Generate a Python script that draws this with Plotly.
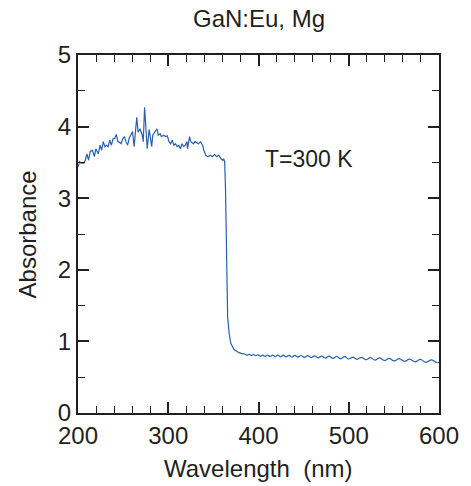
import plotly.graph_objects as go

# Noisy region + absorption edge (nm, absorbance)
wl_edge = [200.2, 201.6, 203.5, 206.3, 208.1, 209.9, 211.7, 213.5, 216.0, 218.2,
           219.7, 222.5, 224.4, 226.2, 228.0, 229.8, 231.6, 233.4, 235.2, 237.0,
           238.8, 240.6, 242.4, 244.2, 246.0, 247.8, 249.6, 251.4, 253.2, 255.0,
           256.8, 258.6, 260.4, 262.2, 264.0, 265.1, 266.6, 268.7, 271.2, 272.3,
           273.8, 275.2, 276.7, 278.8, 280.5, 281.7, 282.8, 285.3, 287.5, 288.9,
           291.1, 292.5, 294.7, 297.2, 299.0, 300.8, 302.6, 304.4, 306.2, 308.0,
           309.8, 311.7, 313.5, 315.3, 317.1, 318.9, 320.7, 321.4, 323.6, 325.0,
           327.9, 329.7, 333.3, 335.8, 338.0, 339.4, 341.6, 344.1, 346.6, 348.8,
           351.3, 353.9, 356.0, 358.5, 360.4, 361.4, 362.5, 363.5, 364.2, 365.0,
           365.8, 367.5, 369.4, 373.0, 378.4, 382.0, 385.0]
abs_edge = [3.44, 3.51, 3.49, 3.49, 3.53, 3.62, 3.53, 3.65, 3.67, 3.58,
            3.69, 3.62, 3.74, 3.67, 3.79, 3.72, 3.74, 3.72, 3.81, 3.74,
            3.83, 3.83, 3.89, 3.79, 3.78, 3.76, 3.83, 3.86, 3.79, 3.74,
            3.84, 3.88, 3.93, 3.72, 3.97, 4.13, 3.92, 3.97, 3.88, 3.79,
            4.27, 3.92, 3.69, 3.96, 3.78, 3.72, 3.88, 3.92, 3.97, 3.88,
            3.90, 3.86, 3.88, 3.86, 3.87, 3.79, 3.76, 3.81, 3.74, 3.76,
            3.72, 3.74, 3.69, 3.76, 3.72, 3.74, 3.79, 3.69, 3.86, 3.79,
            3.76, 3.79, 3.76, 3.79, 3.74, 3.67, 3.60, 3.58, 3.60, 3.58,
            3.61, 3.58, 3.60, 3.55, 3.53, 3.55, 3.51, 3.10, 2.50, 1.81,
            1.34, 1.11, 0.97, 0.885, 0.843, 0.830, 0.822]

# Interference-fringe region (extrema)
wl_fringe = [385.0, 387.3, 389.6, 392.0, 394.4, 396.9, 399.4, 402.0, 404.6, 407.3,
             410.0, 412.8, 415.6, 418.5, 421.4, 424.4, 427.5, 430.6, 433.8, 437.0,
             440.3, 443.7, 447.2, 450.8, 454.5, 458.2, 462.0, 465.9, 469.9, 474.0,
             478.1, 482.3, 486.6, 491.0, 495.5, 500.0, 504.6, 509.3, 514.1, 519.0,
             524.0, 529.0, 534.2, 539.5, 544.9, 550.4, 556.0, 561.7, 567.5, 573.4,
             579.4, 585.5, 591.7, 598.0, 600.0]
abs_fringe = [0.822, 0.808, 0.820, 0.804, 0.816, 0.800, 0.811, 0.793, 0.809, 0.791,
              0.809, 0.789, 0.808, 0.788, 0.808, 0.786, 0.807, 0.785, 0.806, 0.782,
              0.804, 0.780, 0.803, 0.777, 0.801, 0.775, 0.799, 0.771, 0.795, 0.767,
              0.793, 0.763, 0.789, 0.759, 0.786, 0.754, 0.781, 0.749, 0.778, 0.744,
              0.773, 0.739, 0.769, 0.733, 0.763, 0.727, 0.759, 0.721, 0.753, 0.715,
              0.748, 0.708, 0.742, 0.702, 0.708]

x_ticks = [200, 300, 400, 500, 600]
y_ticks = [0, 1, 2, 3, 4, 5]

title_text = "GaN:Eu, Mg"
x_title = "Wavelength&nbsp;&nbsp;(nm)"
y_title = "Absorbance"
temp_label = "T=300 K"

line_color = "#2b5fae"
ink = "#231f20"
font_family = "Liberation Sans, Arial, sans-serif"

fig = go.Figure()
fig.add_trace(go.Scatter(x=wl_edge, y=abs_edge, mode="lines",
                         line=dict(color=line_color, width=1.2), showlegend=False))
fig.add_trace(go.Scatter(x=wl_fringe, y=abs_fringe, mode="lines",
                         line=dict(color=line_color, width=1.2, shape="spline", smoothing=1.0),
                         showlegend=False))

axis_common = dict(
    showline=True, linewidth=2, linecolor=ink, mirror="allticks",
    ticks="inside", ticklen=11, tickwidth=1.5, tickcolor=ink,
    showgrid=False, zeroline=False,
    tickfont=dict(family=font_family, size=24, color=ink),
)

fig.update_xaxes(range=[200, 600], tickvals=x_ticks,
                 minor=dict(ticks="inside", ticklen=7, tickwidth=1.2, tickcolor=ink, dtick=20, showgrid=False),
                 **axis_common)
fig.update_yaxes(range=[0, 5], tickvals=y_ticks,
                 minor=dict(ticks="inside", ticklen=7, tickwidth=1.2, tickcolor=ink, dtick=0.5, showgrid=False),
                 **axis_common)

fig.update_layout(
    width=471, height=486,
    margin=dict(l=78, r=23, t=55, b=73),
    paper_bgcolor="white", plot_bgcolor="white",
    font=dict(family=font_family, color=ink),
    annotations=[
        dict(text=title_text, xref="paper", yref="paper", x=0.5, y=1.101,
             xanchor="center", yanchor="middle", showarrow=False,
             font=dict(size=24, family=font_family, color=ink)),
        dict(text=temp_label, xref="x", yref="y", x=405, y=3.55,
             xanchor="left", yanchor="middle", showarrow=False,
             font=dict(size=23, family=font_family, color=ink)),
        dict(text=x_title, xref="paper", yref="paper", x=0.5, y=-0.155,
             xanchor="center", yanchor="middle", showarrow=False,
             font=dict(size=24, family=font_family, color=ink)),
        dict(text=y_title, xref="paper", yref="paper", x=-0.14, y=0.5,
             xanchor="center", yanchor="middle", showarrow=False, textangle=-90,
             font=dict(size=24, family=font_family, color=ink)),
    ],
)

fig.write_html("out.html")
